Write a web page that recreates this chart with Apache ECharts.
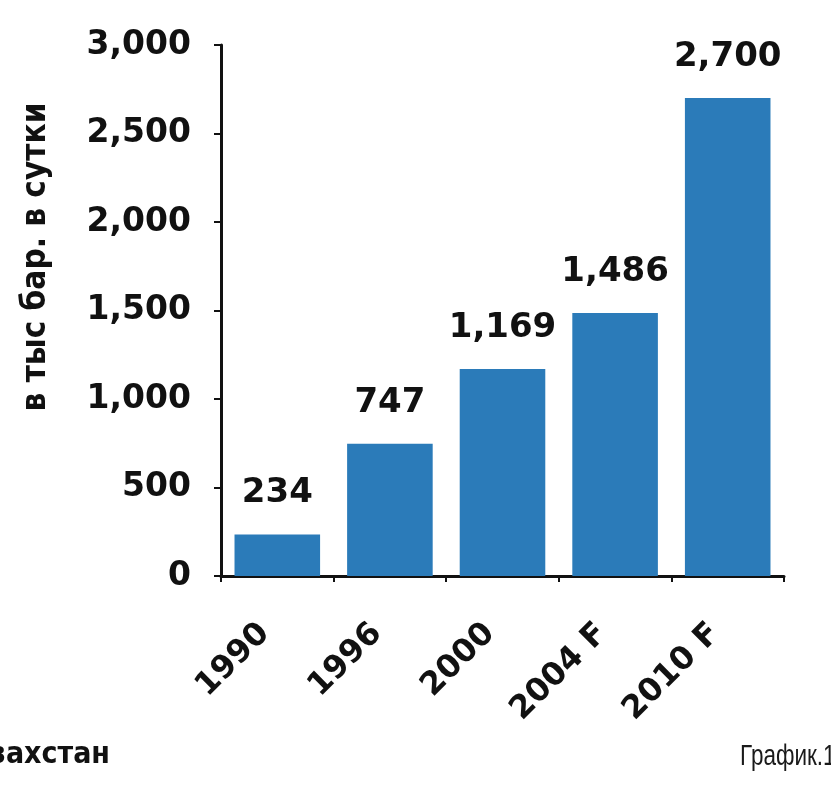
<!DOCTYPE html>
<html><head><meta charset="utf-8">
<script src="https://cdn.jsdelivr.net/npm/echarts@6/dist/echarts.min.js"></script>
<style>html,body{margin:0;padding:0;background:#fff}#c{width:831px;height:787px}</style>
</head><body><div id="c"></div>
<script>
const categories = ['1990', '1996', '2000', '2004 F', '2010 F'];
const values = [234, 747, 1169, 1486, 2700];
const yTicks = [0, 500, 1000, 1500, 2000, 2500, 3000];
const yAxisTitle = 'в тыс бар. в сутки';
const sourceText = 'Казахстан';
const figureText = 'График.1';

const fmt = v => v.toLocaleString('en-US');
const FB = '"DejaVu Sans", sans-serif';
const FC = '"DejaVu Sans Condensed", "DejaVu Sans", sans-serif';
const chart = echarts.init(document.getElementById('c'));
chart.setOption({
  animation: false,
  grid: { left: 221, right: 47, top: 45, bottom: 211 },
  xAxis: {
    type: 'category', data: categories,
    axisLine: { lineStyle: { color: '#111', width: 3 } },
    axisTick: { show: true, length: 6, lineStyle: { color: '#111', width: 2 } },
    axisLabel: { rotate: 45, margin: 40, padding: [0, 18, 0, 0], fontFamily: FB, fontWeight: 'bold', fontSize: 32, color: '#111' }
  },
  yAxis: {
    type: 'value', min: yTicks[0], max: yTicks[yTicks.length - 1], interval: 500,
    axisLine: { show: true, lineStyle: { color: '#111', width: 3 } },
    axisTick: { show: true, length: 7, lineStyle: { color: '#111', width: 2 } },
    splitLine: { show: false },
    axisLabel: { margin: 30, fontFamily: FB, fontWeight: 'bold', fontSize: 33, color: '#111', formatter: fmt }
  },
  series: [{
    type: 'bar', data: values, barCategoryGap: '24%',
    itemStyle: { color: '#2b7bb9' },
    label: { show: true, position: 'top', distance: 24, fontFamily: FB, fontWeight: 'bold', fontSize: 34, color: '#111', formatter: p => fmt(p.value) }
  }],
  graphic: [
    { type: 'text', x: 36, y: 257, rotation: Math.PI / 2,
      style: { text: yAxisTitle, fontFamily: FC, fontWeight: 'bold', fontSize: 33, fill: '#111', align: 'center', verticalAlign: 'middle' } },
    { type: 'text', x: 110, y: 755,
      style: { text: sourceText, fontFamily: FC, fontWeight: 'bold', fontSize: 30, fill: '#111', align: 'right', verticalAlign: 'middle' } },
    { type: 'text', x: 740, y: 757, scaleX: 0.75,
      style: { text: figureText, fontFamily: '"Liberation Sans", Arial, sans-serif', fontSize: 30, fill: '#1a1a1a', align: 'left', verticalAlign: 'middle' } }
  ]
});
</script></body></html>
